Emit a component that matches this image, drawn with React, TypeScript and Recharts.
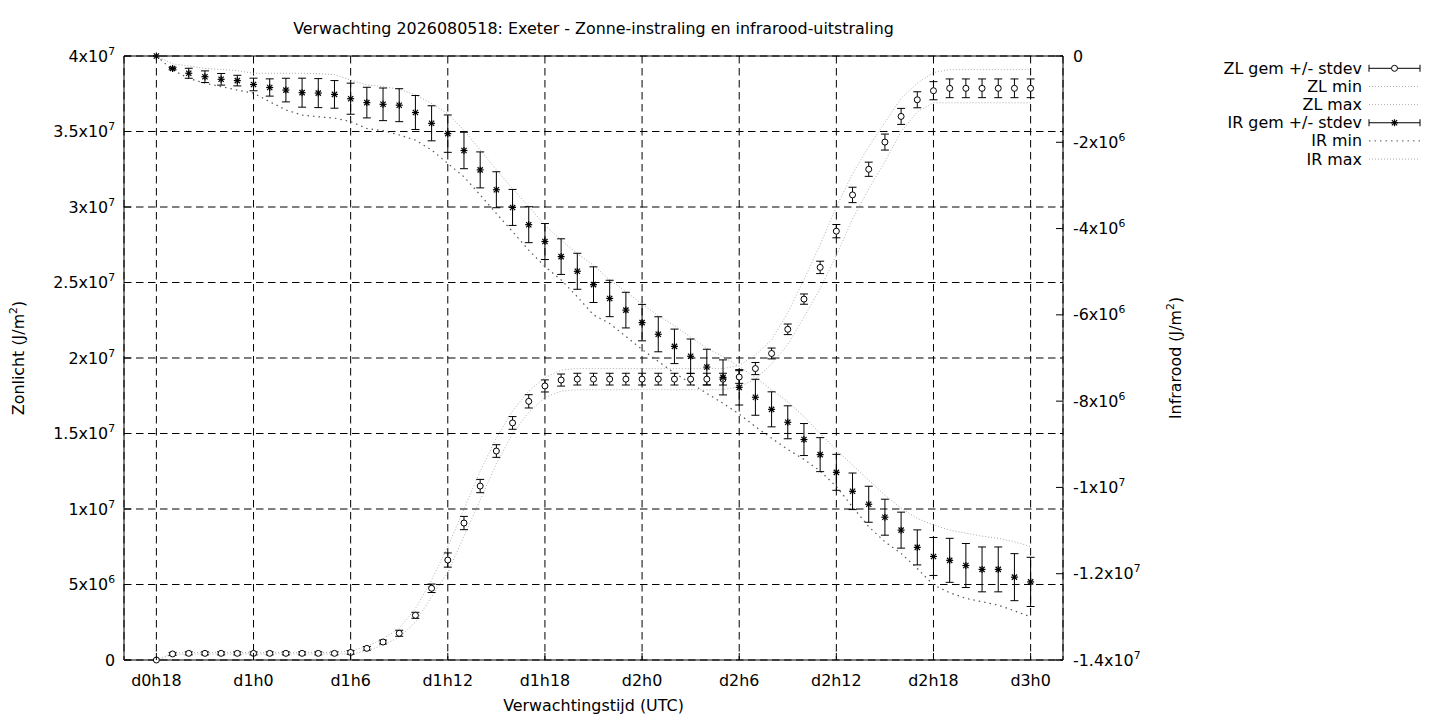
import React from 'react';
import { ComposedChart, Line, XAxis, YAxis, CartesianGrid, ErrorBar, ReferenceLine } from 'recharts';

const FONT = '"DejaVu Sans", sans-serif';
const FS = 15.9;

const hours = [18, 19, 20, 21, 22, 23, 24, 25, 26, 27, 28, 29, 30, 31, 32, 33, 34, 35, 36, 37, 38, 39, 40, 41, 42, 43, 44, 45, 46, 47, 48, 49, 50, 51, 52, 53, 54, 55, 56, 57, 58, 59, 60, 61, 62, 63, 64, 65, 66, 67, 68, 69, 70, 71, 72];

const xTickValues = [18, 24, 30, 36, 42, 48, 54, 60, 66, 72];
const xTickLabels = ['d0h18', 'd1h0', 'd1h6', 'd1h12', 'd1h18', 'd2h0', 'd2h6', 'd2h12', 'd2h18', 'd3h0'];

const zlTickValues = [0, 5e6, 1e7, 1.5e7, 2e7, 2.5e7, 3e7, 3.5e7, 4e7];
const zlTickLabels = ['0', '5x10^6', '1x10^7', '1.5x10^7', '2x10^7', '2.5x10^7', '3x10^7', '3.5x10^7', '4x10^7'];

const irTickValues = [-1.4e7, -1.2e7, -1e7, -8e6, -6e6, -4e6, -2e6, 0];
const irTickLabels = ['-1.4x10^7', '-1.2x10^7', '-1x10^7', '-8x10^6', '-6x10^6', '-4x10^6', '-2x10^6', '0'];

// Zonlicht (left axis)
const zlMean = [
  0, 4.0e5, 4.4e5, 4.4e5, 4.4e5, 4.4e5, 4.4e5, 4.4e5, 4.4e5, 4.4e5, 4.4e5, 4.4e5,
  5.0e5, 7.7e5, 1.19e6, 1.77e6, 2.96e6, 4.75e6, 6.62e6, 9.07e6, 1.152e7, 1.384e7, 1.57e7, 1.713e7, 1.815e7, 1.854e7, 1.86e7,
  1.86e7, 1.86e7, 1.86e7, 1.86e7, 1.86e7, 1.86e7, 1.86e7, 1.86e7, 1.86e7,
  1.874e7, 1.93e7, 2.03e7, 2.19e7, 2.39e7, 2.60e7, 2.84e7, 3.08e7, 3.25e7, 3.43e7, 3.60e7, 3.71e7, 3.77e7,
  3.786e7, 3.786e7, 3.786e7, 3.786e7, 3.786e7, 3.786e7,
];
const zlStd = [
  0, 1.0e5, 1.0e5, 1.0e5, 1.0e5, 1.0e5, 1.0e5, 1.0e5, 1.0e5, 1.0e5, 1.0e5, 1.0e5,
  1.2e5, 1.2e5, 1.3e5, 2.0e5, 2.0e5, 2.8e5, 4.7e5, 4.4e5, 4.4e5, 4.2e5, 4.2e5, 4.4e5, 4.0e5, 4.0e5, 3.9e5,
  3.9e5, 3.9e5, 3.9e5, 3.9e5, 3.9e5, 3.9e5, 3.9e5, 3.9e5, 3.9e5,
  4.2e5, 4.0e5, 3.6e5, 3.5e5, 3.4e5, 4.1e5, 4.4e5, 5.1e5, 4.7e5, 5.3e5, 5.3e5, 5.3e5, 6.0e5,
  6.2e5, 6.2e5, 6.2e5, 6.2e5, 6.2e5, 6.2e5,
];
const zlMin = [
  0, 3.5e5, 4.0e5, 4.0e5, 4.0e5, 4.0e5, 4.0e5, 4.0e5, 4.0e5, 4.0e5, 4.0e5, 4.0e5,
  4.0e5, 6.0e5, 1.0e6, 1.5e6, 2.5e6, 4.2e6, 5.8e6, 8.2e6, 1.06e7, 1.30e7, 1.50e7, 1.64e7, 1.74e7, 1.78e7, 1.79e7,
  1.79e7, 1.79e7, 1.79e7, 1.79e7, 1.79e7, 1.79e7, 1.79e7, 1.79e7, 1.79e7,
  1.81e7, 1.86e7, 1.96e7, 2.09e7, 2.27e7, 2.46e7, 2.68e7, 2.92e7, 3.12e7, 3.30e7, 3.50e7, 3.63e7, 3.69e7,
  3.69e7, 3.69e7, 3.69e7, 3.69e7, 3.69e7, 3.69e7,
];
const zlMax = [
  0, 4.5e5, 5.0e5, 5.0e5, 5.0e5, 5.0e5, 5.0e5, 5.0e5, 5.0e5, 5.0e5, 5.0e5, 5.0e5,
  6.0e5, 9.0e5, 1.4e6, 2.1e6, 3.4e6, 5.3e6, 7.5e6, 1.0e7, 1.25e7, 1.47e7, 1.65e7, 1.78e7, 1.87e7, 1.92e7, 1.93e7,
  1.93e7, 1.93e7, 1.93e7, 1.93e7, 1.93e7, 1.93e7, 1.93e7, 1.93e7, 1.93e7,
  1.95e7, 2.02e7, 2.12e7, 2.30e7, 2.52e7, 2.75e7, 3.00e7, 3.22e7, 3.40e7, 3.56e7, 3.72e7, 3.82e7, 3.89e7,
  3.91e7, 3.91e7, 3.91e7, 3.91e7, 3.91e7, 3.91e7,
];

// Infrarood (right axis)
const irMean = [
  0, -2.9e5, -4.0e5, -4.8e5, -5.4e5, -5.7e5, -6.6e5, -7.3e5, -7.9e5, -8.5e5, -8.6e5, -8.9e5,
  -9.9e5, -1.08e6, -1.12e6, -1.14e6, -1.31e6, -1.56e6, -1.80e6, -2.19e6, -2.64e6, -3.10e6, -3.51e6, -3.91e6, -4.30e6, -4.65e6, -4.99e6,
  -5.30e6, -5.62e6, -5.89e6, -6.18e6, -6.45e6, -6.73e6, -6.96e6, -7.21e6, -7.45e6,
  -7.68e6, -7.91e6, -8.19e6, -8.49e6, -8.89e6, -9.24e6, -9.65e6, -1.009e7, -1.039e7, -1.069e7, -1.099e7, -1.139e7, -1.160e7,
  -1.169e7, -1.181e7, -1.190e7, -1.190e7, -1.208e7, -1.219e7,
];
const irStd = [
  0, 3.0e4, 1.16e5, 1.35e5, 1.35e5, 1.23e5, 1.46e5, 2.0e5, 2.74e5, 3.36e5, 3.36e5, 3.2e5,
  3.6e5, 3.55e5, 3.78e5, 3.82e5, 3.94e5, 4.06e5, 4.33e5, 4.22e5, 4.17e5, 4.17e5, 4.17e5, 4.17e5, 4.17e5, 4.13e5, 4.17e5,
  4.13e5, 4.22e5, 4.13e5, 4.22e5, 4.06e5, 4.0e5, 4.0e5, 4.13e5, 4.06e5,
  4.1e5, 4.17e5, 4.06e5, 3.82e5, 3.71e5, 3.94e5, 4.17e5, 4.24e5, 4.17e5, 4.17e5, 4.17e5, 4.06e5, 4.4e5,
  5.1e5, 5.1e5, 5.2e5, 5.2e5, 5.45e5, 5.7e5,
];
const irMin = [
  0, -3.2e5, -5.2e5, -6.3e5, -7.1e5, -7.9e5, -8.6e5, -1.06e6, -1.25e6, -1.37e6, -1.41e6, -1.44e6,
  -1.52e6, -1.68e6, -1.73e6, -1.83e6, -1.95e6, -2.18e6, -2.49e6, -2.80e6, -3.22e6, -3.65e6, -4.07e6, -4.50e6, -4.88e6, -5.19e6, -5.58e6,
  -6.00e6, -6.20e6, -6.50e6, -6.80e6, -7.08e6, -7.35e6, -7.58e6, -7.82e6, -8.05e6,
  -8.30e6, -8.59e6, -8.86e6, -9.12e6, -9.35e6, -9.62e6, -9.98e6, -1.045e7, -1.091e7, -1.126e7, -1.153e7, -1.188e7, -1.226e7,
  -1.244e7, -1.257e7, -1.265e7, -1.273e7, -1.286e7, -1.300e7,
];
const irMax = [
  0, -1.85e5, -2.3e5, -2.9e5, -3.1e5, -3.4e5, -4.0e5, -4.0e5, -4.0e5, -4.0e5, -4.1e5, -4.3e5,
  -5.6e5, -6.7e5, -7.1e5, -7.7e5, -9.0e5, -1.10e6, -1.34e6, -1.72e6, -2.18e6, -2.64e6, -3.07e6, -3.49e6, -3.92e6, -4.27e6, -4.58e6,
  -4.85e6, -5.19e6, -5.46e6, -5.75e6, -6.02e6, -6.25e6, -6.52e6, -6.77e6, -6.97e6,
  -7.20e6, -7.45e6, -7.74e6, -8.01e6, -8.36e6, -8.75e6, -9.13e6, -9.48e6, -9.83e6, -1.018e7, -1.048e7, -1.072e7, -1.087e7,
  -1.099e7, -1.106e7, -1.113e7, -1.118e7, -1.126e7, -1.137e7,
];

const data = hours.map((h, i) => ({
  h,
  zlMean: zlMean[i],
  zlStd: zlStd[i],
  zlMin: zlMin[i],
  zlMax: zlMax[i],
  irMean: irMean[i],
  irStd: irStd[i],
  irMin: irMin[i],
  irMax: irMax[i],
}));

const SupText = ({ x, y, label, anchor, size = FS }: any) => {
  const parts = String(label).split('^');
  return (
    <text x={x} y={y} textAnchor={anchor} fontFamily={FONT} fontSize={size} fill="#000">
      {parts[0]}
      {parts[1] !== undefined && (
        <tspan dy={-7} fontSize={size * 0.68}>
          {parts[1]}
        </tspan>
      )}
    </text>
  );
};

const LeftTick = (props: any) => {
  const { x, y, payload } = props;
  const idx = zlTickValues.indexOf(payload.value);
  return (
    <g>
      <line x1={x + 9} y1={y} x2={x + 16} y2={y} stroke="#000" strokeWidth={1} />
      <SupText x={x} y={y + 5.5} label={zlTickLabels[idx]} anchor="end" />
    </g>
  );
};

const RightTick = (props: any) => {
  const { x, y, payload } = props;
  const idx = irTickValues.indexOf(payload.value);
  return (
    <g>
      <line x1={x - 10} y1={y} x2={x - 17} y2={y} stroke="#000" strokeWidth={1} />
      <SupText x={x} y={y + 5.5} label={irTickLabels[idx]} anchor="start" />
    </g>
  );
};

const BottomTick = (props: any) => {
  const { x, y, payload } = props;
  const idx = xTickValues.indexOf(payload.value);
  return (
    <g>
      <line x1={x} y1={y - 15} x2={x} y2={y - 22} stroke="#000" strokeWidth={1} />
      <text x={x} y={y + 11} textAnchor="middle" fontFamily={FONT} fontSize={FS} fill="#000">
        {xTickLabels[idx]}
      </text>
    </g>
  );
};

const CircleDot = (props: any) => {
  const { cx, cy, index } = props;
  if (cx == null || cy == null) return <g key={`zc-${index}`} />;
  return <circle key={`zc-${index}`} cx={cx} cy={cy} r={3} fill="#fff" stroke="#000" strokeWidth={1} />;
};

const Asterisk = ({ cx, cy, s = 3.5 }: any) => {
  const d = s * 0.75;
  return (
    <g stroke="#000" strokeWidth={1.2}>
      <line x1={cx - s} y1={cy} x2={cx + s} y2={cy} />
      <line x1={cx} y1={cy - s} x2={cx} y2={cy + s} />
      <line x1={cx - d} y1={cy - d} x2={cx + d} y2={cy + d} />
      <line x1={cx - d} y1={cy + d} x2={cx + d} y2={cy - d} />
    </g>
  );
};

const StarDot = (props: any) => {
  const { cx, cy, index } = props;
  if (cx == null || cy == null) return <g key={`ic-${index}`} />;
  return (
    <g key={`ic-${index}`}>
      <Asterisk cx={cx} cy={cy} />
    </g>
  );
};

const ZL_DOT = { stroke: '#b0b0b0', dash: '1 2' };
const IR_MIN = { stroke: '#555', dash: '1.5 4' };
const IR_MAX = { stroke: '#a8a8a8', dash: '1 2' };

const legendRows = [
  { label: 'ZL gem +/- stdev', kind: 'zl' },
  { label: 'ZL min', kind: 'zlline' },
  { label: 'ZL max', kind: 'zlline' },
  { label: 'IR gem +/- stdev', kind: 'ir' },
  { label: 'IR min', kind: 'irmin' },
  { label: 'IR max', kind: 'irmax' },
];

const Overlay = () => {
  const x0 = 1369;
  const x1 = 1420;
  return (
    <svg
      width={1440}
      height={720}
      style={{ position: 'absolute', left: 0, top: 0, pointerEvents: 'none' }}
    >
      <text x={593.5} y={34} textAnchor="middle" fontFamily={FONT} fontSize={FS} fill="#000">
        Verwachting 2026080518: Exeter - Zonne-instraling en infrarood-uitstraling
      </text>
      <text x={593.5} y={711} textAnchor="middle" fontFamily={FONT} fontSize={FS} fill="#000">
        Verwachtingstijd (UTC)
      </text>
      <text
        x={24}
        y={358}
        transform="rotate(-90 24 358)"
        textAnchor="middle"
        fontFamily={FONT}
        fontSize={FS}
        fill="#000"
      >
        Zonlicht (J/m<tspan dy={-7} fontSize={FS * 0.68}>2</tspan><tspan dy={7}>)</tspan>
      </text>
      <text
        x={1181}
        y={358}
        transform="rotate(-90 1181 358)"
        textAnchor="middle"
        fontFamily={FONT}
        fontSize={FS}
        fill="#000"
      >
        Infrarood (J/m<tspan dy={-7} fontSize={FS * 0.68}>2</tspan><tspan dy={7}>)</tspan>
      </text>
      {legendRows.map((r, i) => {
        const y = 68.3 + i * 18.15;
        let sample: any = null;
        if (r.kind === 'zl' || r.kind === 'ir') {
          sample = (
            <g>
              <line x1={x0} y1={y} x2={x1} y2={y} stroke="#000" strokeWidth={1} />
              <line x1={x0} y1={y - 3.5} x2={x0} y2={y + 3.5} stroke="#000" strokeWidth={1} />
              <line x1={x1} y1={y - 3.5} x2={x1} y2={y + 3.5} stroke="#000" strokeWidth={1} />
              {r.kind === 'zl' ? (
                <circle cx={(x0 + x1) / 2} cy={y} r={3} fill="#fff" stroke="#000" strokeWidth={1} />
              ) : (
                <Asterisk cx={(x0 + x1) / 2} cy={y} />
              )}
            </g>
          );
        } else {
          const st = r.kind === 'zlline' ? ZL_DOT : r.kind === 'irmin' ? IR_MIN : IR_MAX;
          sample = (
            <line x1={x0} y1={y} x2={x1} y2={y} stroke={st.stroke} strokeWidth={1} strokeDasharray={st.dash} />
          );
        }
        return (
          <g key={r.label}>
            <text x={1362} y={y + 5.5} textAnchor="end" fontFamily={FONT} fontSize={FS} fill="#000">
              {r.label}
            </text>
            {sample}
          </g>
        );
      })}
    </svg>
  );
};

export default function App() {
  return (
    <div style={{ position: 'absolute', left: 0, top: 0, width: 1440, height: 720, background: '#fff' }}>
      <ComposedChart
        width={1440}
        height={720}
        data={data}
        margin={{ top: 56, right: 257, bottom: 30, left: 0 }}
      >
        <CartesianGrid
          yAxisId="zl"
          stroke="#000"
          strokeWidth={1}
          strokeDasharray="7.5 4.5"
          fill="none"
        />
        <XAxis
          dataKey="h"
          type="number"
          domain={[16, 74]}
          ticks={xTickValues}
          height={30}
          tickSize={0}
          tickMargin={15}
          tickLine={false}
          axisLine={{ stroke: '#000', strokeWidth: 1 }}
          tick={<BottomTick />}
          interval={0}
        />
        <YAxis
          yAxisId="zl"
          orientation="left"
          type="number"
          domain={[0, 4e7]}
          ticks={zlTickValues}
          width={124}
          tickSize={0}
          tickMargin={9}
          tickLine={false}
          axisLine={{ stroke: '#000', strokeWidth: 1 }}
          tick={<LeftTick />}
          interval={0}
        />
        <YAxis
          yAxisId="ir"
          orientation="right"
          type="number"
          domain={[-1.4e7, 0]}
          ticks={irTickValues}
          width={120}
          tickSize={0}
          tickMargin={10}
          tickLine={false}
          axisLine={{ stroke: '#000', strokeWidth: 1 }}
          tick={<RightTick />}
          interval={0}
        />
        <ReferenceLine yAxisId="zl" y={4e7} stroke="#000" strokeWidth={1} />

        <Line
          yAxisId="zl"
          dataKey="zlMin"
          type="linear"
          stroke={ZL_DOT.stroke}
          strokeWidth={1}
          strokeDasharray={ZL_DOT.dash}
          dot={false}
          activeDot={false}
          isAnimationActive={false}
        />
        <Line
          yAxisId="zl"
          dataKey="zlMax"
          type="linear"
          stroke={ZL_DOT.stroke}
          strokeWidth={1}
          strokeDasharray={ZL_DOT.dash}
          dot={false}
          activeDot={false}
          isAnimationActive={false}
        />
        <Line
          yAxisId="ir"
          dataKey="irMin"
          type="linear"
          stroke={IR_MIN.stroke}
          strokeWidth={1.2}
          strokeDasharray={IR_MIN.dash}
          dot={false}
          activeDot={false}
          isAnimationActive={false}
        />
        <Line
          yAxisId="ir"
          dataKey="irMax"
          type="linear"
          stroke={IR_MAX.stroke}
          strokeWidth={1}
          strokeDasharray={IR_MAX.dash}
          dot={false}
          activeDot={false}
          isAnimationActive={false}
        />
        <Line
          yAxisId="zl"
          dataKey="zlMean"
          type="linear"
          stroke="none"
          dot={CircleDot}
          activeDot={false}
          isAnimationActive={false}
        >
          <ErrorBar dataKey="zlStd" width={4} stroke="#000" strokeWidth={1} direction="y" isAnimationActive={false} />
        </Line>
        <Line
          yAxisId="ir"
          dataKey="irMean"
          type="linear"
          stroke="none"
          dot={StarDot}
          activeDot={false}
          isAnimationActive={false}
        >
          <ErrorBar dataKey="irStd" width={4} stroke="#000" strokeWidth={1} direction="y" isAnimationActive={false} />
        </Line>
      </ComposedChart>
      <Overlay />
    </div>
  );
}
